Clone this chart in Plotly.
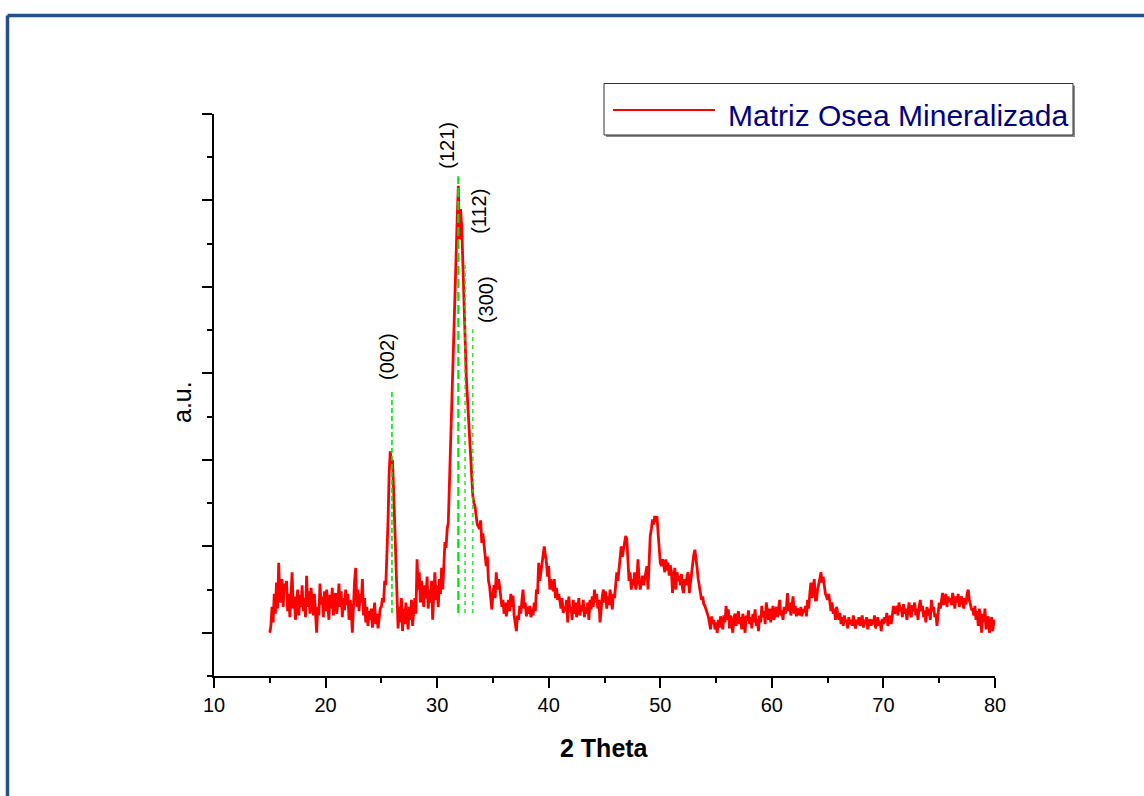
import numpy as np
import plotly.graph_objects as go

# ---- diffraction pattern, 2-theta grid 15.0 .. 80.0 in 0.1 deg steps ----
two_theta_start = 15.0
two_theta_stop = 80.0
two_theta_step = 0.1

intensity = [
    0, 8, 30, 12, 45, 22, 58, 28, 81, 40,          # 15
    35, 62, 30, 57, 48, 60, 25, 45, 18, 50,        # 16
    70, 28, 42, 15, 38, 50, 20, 44, 30, 55,        # 17
    25, 40, 18, 66, 30, 48, 22, 52, 35, 20,        # 18
    45, 28, 0, 30, 20, 57, 33, 42, 18, 48,         # 19
    25, 50, 30, 15, 44, 28, 52, 20, 38, 46,        # 20
    22, 35, 57, 30, 48, 18, 40, 26, 50, 32,        # 21
    45, 15, 38, 28, 0, 42, 60, 75, 30, 50,         # 22
    25, 45, 35, 62, 20, 40, 12, 30, 8, 25,         # 23
    15, 28, 6, 20, 35, 10, 22, 5, 18, 28,          # 24
    30, 40, 35, 60, 55, 88, 130, 185, 210, 195,    # 25
    200, 165, 123, 75, 35, 5, 30, 12, 40, 2,       # 26
    28, 10, 35, 18, 4, 30, 15, 38, 8, 25,          # 27
    40, 22, 85, 50, 70, 35, 60, 45, 30, 55,        # 28
    40, 65, 28, 50, 35, 60, 15, 45, 70, 38,        # 29
    55, 30, 62, 45, 75, 50, 90, 105, 98, 120,      # 30
    127, 175, 200, 245, 300, 340, 382, 440, 480, 517,  # 31
    455, 490, 470, 430, 380, 320, 300, 275, 250, 225,  # 32
    205, 170, 158, 150, 146, 135, 125, 123, 120, 130,  # 33
    104, 115, 100, 89, 77, 88, 60, 54, 35, 27,     # 34
    45, 55, 40, 70, 50, 62, 54, 40, 30, 38,        # 35
    22, 35, 19, 30, 38, 25, 45, 30, 43, 20,        # 36
    10, 2, 20, 15, 31, 22, 38, 50, 28, 35,         # 37
    19, 30, 22, 31, 18, 28, 20, 35, 25, 50,        # 38
    45, 81, 60, 70, 85, 95, 100, 90, 81, 65,       # 39
    77, 50, 62, 55, 48, 62, 40, 52, 38, 45,        # 40
    35, 28, 40, 23, 30, 25, 38, 12, 42, 25,        # 41
    30, 15, 38, 22, 35, 18, 28, 40, 20, 32,        # 42
    25, 38, 18, 30, 22, 35, 15, 38, 27, 42,        # 43
    30, 50, 35, 45, 28, 38, 12, 30, 42, 50,        # 44
    35, 48, 28, 42, 32, 50, 38, 27, 45, 40,        # 45
    55, 70, 60, 75, 82, 100, 88, 98, 105, 112,     # 46
    108, 77, 60, 70, 50, 62, 55, 70, 50, 58,       # 47
    85, 62, 50, 58, 66, 55, 62, 70, 77, 50,        # 48
    90, 112, 120, 131, 125, 135, 128, 135, 116, 100,  # 49
    81, 77, 85, 80, 70, 85, 72, 81, 66, 78,        # 50
    70, 46, 66, 75, 50, 70, 60, 66, 55, 68,        # 51
    50, 46, 62, 55, 66, 70, 46, 58, 62, 75,        # 52
    90, 96, 88, 75, 62, 52, 46, 38, 42, 33,        # 53
    31, 27, 23, 19, 12, 4, 19, 10, 15, 4,          # 54
    12, 0, 15, 6, 19, 10, 4, 20, 12, 31,           # 55
    15, 27, 5, 20, 12, 0, 18, 22, 8, 15,           # 56
    25, 10, 18, 4, 22, 12, 0, 20, 14, 26,          # 57
    10, 18, 5, 22, 12, 27, 8, 16, 2, 20,           # 58
    12, 31, 18, 25, 10, 35, 20, 15, 28, 12,        # 59
    22, 31, 15, 25, 30, 18, 28, 38, 20, 26,        # 60
    15, 30, 22, 28, 46, 25, 35, 20, 30, 42,        # 61
    22, 31, 19, 28, 25, 20, 30, 19, 27, 24,        # 62
    31, 19, 38, 28, 45, 58, 40, 50, 62, 38,        # 63
    38, 50, 55, 62, 70, 58, 65, 50, 45, 42,        # 64
    38, 45, 31, 25, 35, 22, 28, 15, 30, 20,        # 65
    15, 23, 10, 18, 8, 20, 12, 15, 5, 18,          # 66
    10, 15, 8, 20, 12, 5, 15, 10, 18, 8,           # 67
    12, 20, 6, 15, 10, 18, 4, 12, 16, 8,           # 68
    15, 10, 20, 5, 12, 18, 8, 14, 2, 16,           # 69
    10, 18, 12, 23, 8, 15, 20, 10, 25, 31,         # 70
    22, 28, 31, 20, 35, 25, 30, 18, 33, 22,        # 71
    28, 15, 30, 35, 22, 18, 32, 25, 35, 20,        # 72
    28, 15, 30, 38, 25, 31, 18, 26, 12, 30,        # 73
    20, 28, 15, 38, 25, 30, 18, 22, 8, 25,         # 74
    35, 28, 40, 46, 32, 38, 45, 30, 42, 36,        # 75
    40, 32, 46, 38, 28, 42, 35, 45, 30, 38,        # 76
    42, 35, 28, 40, 33, 45, 50, 38, 30, 27,        # 77
    27, 20, 31, 15, 25, 8, 28, 18, 0, 22,          # 78
    12, 28, 4, 15, 19, 0, 12, 18, 2, 15,           # 79
    8,                                             # 80
]

two_theta = np.round(np.arange(two_theta_start, two_theta_stop + two_theta_step / 2, two_theta_step), 1)
assert len(two_theta) == len(intensity)

# ---- reflection markers (Miller indices) ----
peak_labels = ["(002)", "(121)", "(112)", "(300)"]
peak_positions = [25.95, 31.9, 32.5, 33.2]
peak_line_tops = [281, 528, 426, 351]
peak_line_bottom = 23
label_positions = [25.5, 30.85, 33.75, 34.4]
label_heights = [320, 564, 488, 385]

series_name = "Matriz Osea Mineralizada"

# ---- page geometry ----
W, H = 1144, 796
M_L, M_R, M_T, M_B = 214, 149, 114, 120
PW, PH = W - M_L - M_R, H - M_T - M_B


def px(x):
    return (x - M_L) / PW


def py(y):
    return (H - M_B - y) / PH


FONT = "Liberation Sans, Arial, sans-serif"

fig = go.Figure()

fig.add_trace(go.Scatter(
    x=two_theta, y=intensity, mode="lines", name=series_name,
    line=dict(color="#ff0000", width=2.8), showlegend=False,
))

dash_styles = [("5px,3px", 1.6), ("9px,4px", 2.2), ("4px,4px", 1.3), ("4px,4px", 1.3)]
for pos, top, (dash, w) in zip(peak_positions, peak_line_tops, dash_styles):
    fig.add_trace(go.Scatter(
        x=[pos, pos], y=[peak_line_bottom, top], mode="lines",
        line=dict(color="#00e600", width=w, dash=dash), showlegend=False,
        hoverinfo="skip",
    ))

annotations = []
for lab, lx, ly in zip(peak_labels, label_positions, label_heights):
    annotations.append(dict(
        x=lx, y=ly, xref="x", yref="y", text=lab, showarrow=False,
        textangle=-90, font=dict(family=FONT, size=20, color="black"),
        xanchor="center", yanchor="middle",
    ))

# axis titles
annotations.append(dict(
    x=px(604.5), y=py(748), xref="paper", yref="paper", text="<b>2 Theta</b>",
    showarrow=False, font=dict(family=FONT, size=25, color="black"),
    xanchor="center", yanchor="middle",
))
annotations.append(dict(
    x=px(182), y=py(402), xref="paper", yref="paper", text="a.u.",
    showarrow=False, textangle=-90, font=dict(family=FONT, size=25, color="black"),
    xanchor="center", yanchor="middle",
))

# legend text
annotations.append(dict(
    x=px(726), y=py(115), xref="paper", yref="paper", text=series_name,
    showarrow=False, font=dict(family=FONT, size=30, color="#000080"),
    xanchor="left", yanchor="middle",
))

shapes = [
    # outer frame
    dict(type="line", xref="paper", yref="paper", x0=px(7.5), x1=px(1160), y0=py(15.5), y1=py(15.5),
         line=dict(color="#24508a", width=3.5)),
    dict(type="line", xref="paper", yref="paper", x0=px(7.5), x1=px(7.5), y0=py(15.5), y1=py(810),
         line=dict(color="#24508a", width=3.5)),
    # legend box shadow + box
    dict(type="rect", xref="paper", yref="paper", x0=px(606), x1=px(1075), y0=py(85.5), y1=py(137),
         fillcolor="#8a8a8a", line=dict(width=0), layer="above"),
    dict(type="rect", xref="paper", yref="paper", x0=px(604), x1=px(1073), y0=py(83.5), y1=py(135),
         fillcolor="white", line=dict(color="#333333", width=1), layer="above"),
    dict(type="line", xref="paper", yref="paper", x0=px(613), x1=px(715), y0=py(110), y1=py(110),
         line=dict(color="#ff0000", width=2), layer="above"),
]

fig.update_layout(
    width=W, height=H,
    margin=dict(l=M_L, r=M_R, t=M_T, b=M_B, pad=0),
    paper_bgcolor="white", plot_bgcolor="white",
    showlegend=False,
    annotations=annotations,
    shapes=shapes,
    font=dict(family=FONT, color="black"),
)

fig.update_xaxes(
    range=[10, 80], tickvals=[10, 20, 30, 40, 50, 60, 70, 80],
    ticks="outside", ticklen=10, tickwidth=2, tickcolor="black",
    minor=dict(tickvals=[15, 25, 35, 45, 55, 65, 75], ticks="outside", ticklen=5,
               tickwidth=2, tickcolor="black", showgrid=False),
    showline=True, linecolor="black", linewidth=2, showgrid=False, zeroline=False,
    tickfont=dict(family=FONT, size=20, color="black"),
)
fig.update_yaxes(
    range=[-50, 600], tickvals=[0, 100, 200, 300, 400, 500, 600],
    ticks="outside", ticklen=10, tickwidth=2, tickcolor="black",
    minor=dict(tickvals=[-50, 50, 150, 250, 350, 450, 550], ticks="outside", ticklen=5,
               tickwidth=2, tickcolor="black", showgrid=False),
    showline=True, linecolor="black", linewidth=2, showgrid=False, zeroline=False,
    showticklabels=False,
)

fig.write_html("out.html")
